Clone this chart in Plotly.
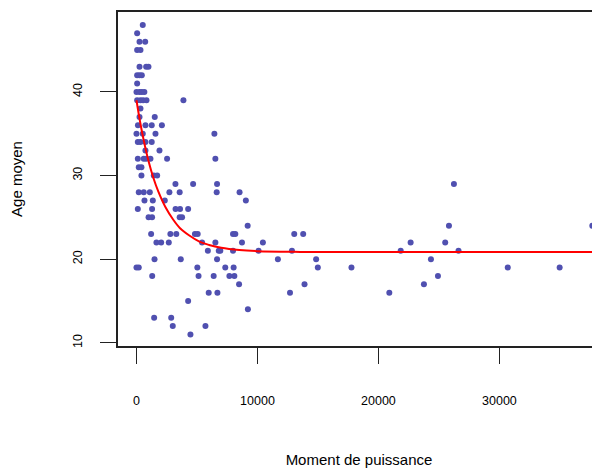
import plotly.graph_objects as go

# Scatter data grouped by age (y) row: moment de puissance values (x)
rows = {
    48: [520],
    47: [55],
    46: [250, 720],
    45: [55, 330],
    43: [250, 800, 990],
    42: [55, 250, 440],
    41: [55],
    40: [0, 250, 440, 650],
    39: [55, 330, 550, 825, 3880],
    38: [330],
    37: [250, 1510],
    36: [120, 740, 1260, 2100],
    35: [0, 520, 1570, 6440],
    34: [110, 330, 740, 1260],
    33: [740, 1900],
    32: [110, 600, 800, 1155, 2530, 6520],
    31: [190, 410],
    30: [410, 1430, 1710],
    29: [3220, 4680, 6660, 26240],
    28: [190, 600, 1100, 2720, 3570, 6630, 8520],
    27: [660, 1350, 2340, 9040],
    26: [110, 1290, 3230, 3600, 4270],
    25: [1000, 1290, 3570, 3770],
    24: [9190, 25830, 37680],
    23: [1210, 2800, 3290, 4830, 5060, 7980, 8170, 13040, 13780],
    22: [1650, 2040, 2670, 5420, 6520, 8720, 10450, 22660, 25520],
    21: [5900, 6800, 6930, 7980, 10090, 12850, 21840, 26620],
    20: [1490, 3660, 6660, 11690, 14850, 24340],
    19: [0, 190, 5030, 7340, 8030, 14990, 17770, 30690, 34980],
    18: [1300, 5130, 6380, 7680, 8090, 24920],
    17: [8480, 13890, 23760],
    16: [5970, 6690, 12690, 20900],
    15: [4270],
    14: [9210],
    13: [1460, 2870],
    12: [3000, 5700],
    11: [4460],
}

moment = [x for age, xs in rows.items() for x in xs]
age = [age for age, xs in rows.items() for x in xs]

# Fitted curve
curve_x = [0, 300, 600, 1000, 1400, 1800, 2400, 3000, 3600, 4400, 5200,
           6000, 7000, 8500, 10000, 13000, 18000, 37680]
curve_y = [39.0, 36.4, 34.2, 31.7, 29.7, 28.1, 26.2, 24.8, 23.7, 22.8, 22.1,
           21.7, 21.36, 21.09, 20.96, 20.88, 20.85, 20.85]

x_ticks = [0, 10000, 20000, 30000]
y_ticks = [10, 20, 30, 40]

font_family = "Liberation Sans, Arial, sans-serif"

fig = go.Figure()
fig.add_trace(go.Scatter(
    x=moment, y=age, mode="markers",
    marker=dict(size=6, color="rgb(80,80,176)", line=dict(width=0)),
    showlegend=False, hoverinfo="x+y",
))
fig.add_trace(go.Scatter(
    x=curve_x, y=curve_y, mode="lines",
    line=dict(color="red", width=2, shape="spline"),
    showlegend=False,
))

fig.update_layout(
    width=592, height=460,
    margin=dict(l=110, r=0, t=4, b=122, autoexpand=False),
    paper_bgcolor="white", plot_bgcolor="white",
    font=dict(family=font_family, color="black"),
    xaxis=dict(
        range=[-1528, 38315], autorange=False,
        tickvals=x_ticks, ticktext=[str(v) for v in x_ticks],
        ticks="outside", ticklen=16, tickwidth=1.2, tickcolor="#222",
        showline=True, linewidth=2, linecolor="#222", mirror=True,
        showgrid=False, zeroline=False,
        tickfont=dict(size=12.5, family=font_family),
        ticklabelstandoff=26,
        title=dict(text="Moment de puissance", font=dict(size=15), standoff=47),
        automargin=False,
    ),
    yaxis=dict(
        range=[9.62, 49.55], autorange=False,
        tickvals=y_ticks, ticktext=[str(v) for v in y_ticks],
        ticks="outside", ticklen=16, tickwidth=1.2, tickcolor="#222",
        showline=True, linewidth=2, linecolor="#222", mirror=False,
        showgrid=False, zeroline=False,
        tickangle=-90,
        tickfont=dict(size=12.5, family=font_family),
        ticklabelstandoff=13,
        title=dict(text="Age moyen", font=dict(size=15), standoff=47),
        automargin=False,
    ),
)

fig.write_html("out.html")
